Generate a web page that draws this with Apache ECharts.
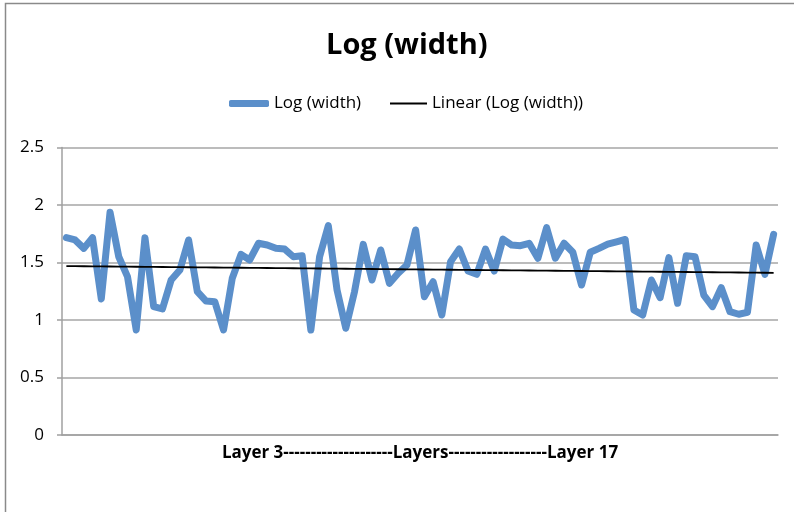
<!DOCTYPE html>
<html>
<head>
<meta charset="utf-8">
<script src="https://cdn.jsdelivr.net/npm/echarts@6/dist/echarts.min.js"></script>
<style>
html,body{margin:0;padding:0;background:#fff;overflow:hidden;}
#chart{width:794px;height:512px;}
</style>
</head>
<body>
<div id="chart"></div>
<script>
var titleText = 'Log (width)';
var seriesName = 'Log (width)';
var trendName = 'Linear (Log (width))';
var xAxisName = 'Layer 3--------------------Layers------------------Layer 17';
var yTicks = [0, 0.5, 1, 1.5, 2, 2.5];

var logWidth = [
  1.716, 1.696, 1.623, 1.716, 1.183, 1.937, 1.550, 1.377, 0.913, 1.716,
  1.116, 1.096, 1.348, 1.435, 1.696, 1.246, 1.165, 1.159, 0.913, 1.363,
  1.571, 1.522, 1.667, 1.652, 1.623, 1.617, 1.550, 1.559, 0.913, 1.550,
  1.820, 1.261, 0.928, 1.246, 1.658, 1.348, 1.609, 1.319, 1.406, 1.478,
  1.783, 1.203, 1.333, 1.043, 1.507, 1.617, 1.426, 1.397, 1.617, 1.426,
  1.704, 1.652, 1.646, 1.667, 1.537, 1.803, 1.537, 1.667, 1.589, 1.304,
  1.589, 1.623, 1.660, 1.680, 1.700, 1.087, 1.043, 1.348, 1.194, 1.542,
  1.145, 1.559, 1.550, 1.217, 1.116, 1.281, 1.072, 1.050, 1.067, 1.652,
  1.397, 1.745
];
var categories = logWidth.map(function (_, i) { return String(i + 1); });

// least-squares linear trend of the series
var n = logWidth.length, sx = 0, sy = 0, sxy = 0, sxx = 0;
for (var i = 0; i < n; i++) {
  var xi = i + 1;
  sx += xi; sy += logWidth[i]; sxy += xi * logWidth[i]; sxx += xi * xi;
}
var slope = (n * sxy - sx * sy) / (n * sxx - sx * sx);
var intercept = (sy - slope * sx) / n;
var trend = logWidth.map(function (_, i) { return intercept + slope * (i + 1); });

var FONT = 'Open Sans';
var chart = echarts.init(document.getElementById('chart'), null, {renderer: 'canvas'});
chart.setOption({
  animation: false,
  backgroundColor: '#ffffff',
  title: {
    text: titleText,
    left: 326,
    top: 31,
    padding: 0,
    textStyle: {fontFamily: FONT, fontWeight: 'bold', fontSize: 29, color: '#000'}
  },
  legend: [{
    data: [{name: seriesName, icon: 'roundRect'}],
    left: 229,
    top: 95,
    padding: 0,
    itemWidth: 40,
    itemHeight: 7,
    textStyle: {fontFamily: FONT, fontSize: 17, color: '#000'}
  }, {
    data: [{name: trendName, icon: 'rect'}],
    left: 390,
    top: 95,
    padding: 0,
    itemWidth: 37,
    itemHeight: 2,
    textStyle: {fontFamily: FONT, fontSize: 17, color: '#000'}
  }],
  grid: {left: 62, right: 16, top: 147.5, bottom: 77, containLabel: false},
  xAxis: {
    type: 'category',
    data: categories,
    boundaryGap: true,
    name: xAxisName,
    nameLocation: 'middle',
    nameGap: 10,
    nameTextStyle: {fontFamily: FONT, fontWeight: 'bold', fontSize: 17, color: '#000'},
    axisLine: {lineStyle: {color: '#a0a0a0', width: 1.5}},
    axisTick: {show: false},
    axisLabel: {show: false},
    splitLine: {show: false}
  },
  yAxis: {
    type: 'value',
    min: yTicks[0],
    max: yTicks[yTicks.length - 1],
    interval: 0.5,
    axisLine: {show: true, lineStyle: {color: '#a0a0a0', width: 1.5}},
    axisTick: {show: true, length: 5, lineStyle: {color: '#a0a0a0', width: 1.5}},
    axisLabel: {fontFamily: FONT, fontSize: 17, color: '#000', margin: 18},
    splitLine: {show: true, lineStyle: {color: '#a6a6a6', width: 1.5}}
  },
  series: [{
    name: seriesName,
    type: 'line',
    data: logWidth,
    symbol: 'none',
    color: '#5b8fca',
    lineStyle: {width: 7, color: '#5b8fca', join: 'round', cap: 'round'},
    z: 2
  }, {
    name: trendName,
    type: 'line',
    data: trend,
    symbol: 'none',
    color: '#000',
    lineStyle: {width: 1.8, color: '#000'},
    z: 3
  }],
  graphic: [{
    type: 'rect',
    shape: {x: 5.5, y: 3.5, width: 1000, height: 1000},
    style: {fill: 'none', stroke: '#8a8a8a', lineWidth: 1.5},
    silent: true
  }]
});
</script>
</body>
</html>
